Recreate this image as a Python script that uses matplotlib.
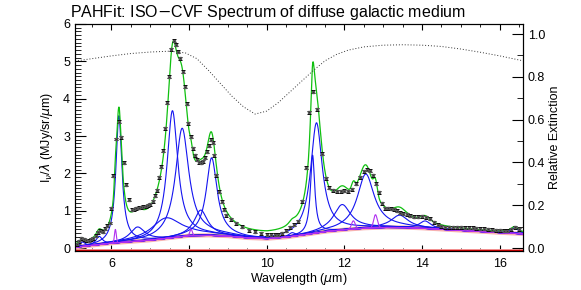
import numpy as np
import matplotlib
matplotlib.use('Agg')
import matplotlib.pyplot as plt
from matplotlib.ticker import MultipleLocator

plt.rcParams['font.family'] = ['Liberation Sans', 'DejaVu Sans']

wave = [5.10, 5.16, 5.22, 5.28, 5.35, 5.41, 5.47, 5.53, 5.59, 5.65,
        5.71, 5.77, 5.83, 5.88, 5.95, 6.00, 6.05, 6.12, 6.19, 6.25,
        6.31, 6.38, 6.45, 6.52, 6.58, 6.64, 6.70, 6.76, 6.82, 6.88,
        6.94, 7.00, 7.06, 7.12, 7.17, 7.22, 7.27, 7.33, 7.38, 7.43,
        7.49, 7.54, 7.60, 7.66, 7.72, 7.77, 7.83, 7.89, 7.94, 7.98,
        8.04, 8.09, 8.15, 8.20, 8.25, 8.30, 8.35, 8.40, 8.45, 8.50,
        8.56, 8.61, 8.65, 8.69, 8.77, 8.84, 8.90, 8.96, 9.07, 9.20,
        9.37, 9.54, 9.70, 9.85, 10.0, 10.1, 10.2, 10.3, 10.4, 10.5,
        10.6, 10.7, 10.8, 10.9, 11.0, 11.1, 11.2, 11.3, 11.42, 11.52,
        11.6, 11.7, 11.8, 11.9, 12.0, 12.1, 12.2, 12.3, 12.4, 12.5,
        12.58, 12.66, 12.74, 12.82, 12.88, 12.96, 13.04, 13.12, 13.2, 13.28,
        13.36, 13.44, 13.52, 13.6, 13.7, 13.8, 13.9, 14.0, 14.1, 14.2,
        14.3, 14.4, 14.5, 14.6, 14.7, 14.8, 14.9, 15.0, 15.1, 15.2,
        15.3, 15.4, 15.5, 15.6, 15.7, 15.8, 15.9, 16.0, 16.1, 16.2,
        16.3, 16.4, 16.5]
flux = [0.10, 0.18, 0.26, 0.24, 0.21, 0.20, 0.23, 0.26, 0.33, 0.42,
        0.46, 0.44, 0.52, 0.60, 0.67, 1.07, 1.93, 2.92, 3.38, 2.97,
        2.28, 1.69, 1.29, 1.03, 1.04, 1.06, 1.08, 1.09, 1.10, 1.12,
        1.14, 1.17, 1.25, 1.40, 1.55, 1.90, 2.18, 2.61, 3.21, 3.89,
        4.59, 5.33, 5.55, 5.44, 5.26, 5.08, 4.72, 4.32, 3.86, 3.34,
        2.98, 2.67, 2.48, 2.36, 2.30, 2.29, 2.33, 2.42, 2.58, 2.74,
        2.90, 2.82, 2.49, 1.95, 1.51, 1.24, 1.02, 0.88, 0.77, 0.66,
        0.57, 0.48, 0.43, 0.40, 0.36, 0.35, 0.35, 0.36, 0.40, 0.46,
        0.55, 0.62, 0.72, 1.25, 2.15, 3.63, 4.19, 3.71, 2.52, 1.87,
        1.62, 1.55, 1.52, 1.52, 1.53, 1.52, 1.58, 1.72, 1.90, 2.05,
        2.10, 2.07, 1.95, 1.72, 1.50, 1.20, 1.07, 1.06, 1.05, 1.04,
        1.00, 0.95, 0.92, 0.90, 0.86, 0.84, 0.84, 0.85, 0.83, 0.78,
        0.69, 0.62, 0.58, 0.56, 0.55, 0.55, 0.55, 0.55, 0.54, 0.54,
        0.54, 0.53, 0.52, 0.51, 0.50, 0.49, 0.48, 0.47, 0.46, 0.46,
        0.50, 0.56, 0.50]
flux_err = [0.04] * len(wave)

# dust continuum (left axis units)
cont_wave = [5.06, 5.5, 6.0, 6.5, 7.0, 7.5, 8.0, 8.5, 9.0, 9.5, 10.0,
             10.5, 11.0, 11.5, 12.0, 12.5, 13.0, 13.5, 14.0, 14.5, 15.0,
             15.5, 16.0, 16.6]
cont_flux = [0.02, 0.07, 0.13, 0.17, 0.21, 0.27, 0.33, 0.34, 0.32, 0.27, 0.25,
             0.29, 0.36, 0.44, 0.49, 0.53, 0.55, 0.55, 0.53, 0.50, 0.47,
             0.44, 0.41, 0.38]

# PAH features: centre, peak above continuum, fractional FWHM
pah_wave = [5.25, 5.68, 6.19, 6.67, 7.41, 7.57, 7.82, 8.30, 8.58, 10.65,
            11.18, 11.28, 11.94, 12.55, 13.42, 14.08, 16.38]
pah_peak = [0.12, 0.22, 3.40, 0.38, 0.55, 3.40, 2.90, 0.68, 2.08, 0.10,
            2.10, 2.95, 0.68, 1.45, 0.33, 0.20, 0.15]
pah_frac = [0.034, 0.035, 0.030, 0.070, 0.126, 0.044, 0.053, 0.050, 0.039, 0.020,
            0.012, 0.032, 0.045, 0.042, 0.040, 0.025, 0.014]

# atomic / H2 lines: centre, peak, FWHM
line_wave = [6.10, 8.05, 12.23, 12.80]
line_peak = [0.36, 0.17, 0.22, 0.35]
line_fwhm = [0.055, 0.075, 0.11, 0.11]

# relative extinction (right axis)
ext_wave = [5.06, 5.5, 6.0, 6.5, 7.0, 7.5, 7.9, 8.2, 8.5, 8.8, 9.1, 9.4,
            9.7, 10.0, 10.3, 10.6, 10.9, 11.2, 11.5, 11.8, 12.1, 12.5,
            13.0, 13.5, 14.0, 14.5, 15.0, 15.5, 16.0, 16.6]
ext_val = [0.874, 0.885, 0.898, 0.909, 0.916, 0.920, 0.912, 0.885, 0.830, 0.770,
           0.710, 0.660, 0.626, 0.640, 0.680, 0.730, 0.780, 0.830, 0.875, 0.905,
           0.925, 0.940, 0.948, 0.950, 0.948, 0.942, 0.930, 0.915, 0.898, 0.875]

x = np.linspace(5.06, 16.6, 1500)
cont = np.interp(x, cont_wave, cont_flux)


def drude(x, x0, peak, frac):
    return peak * frac**2 / ((x / x0 - x0 / x)**2 + frac**2)


def gauss(x, x0, peak, fwhm):
    return peak * np.exp(-0.5 * ((x - x0) / (fwhm / 2.3548))**2)


fig = plt.figure(figsize=(5.81, 2.90), dpi=100)
ax = fig.add_axes([75 / 581, 39 / 290, 448 / 581, 227 / 290])

total = cont.copy()
for w0, p, f in zip(pah_wave, pah_peak, pah_frac):
    comp = drude(x, w0, p, f)
    total += comp
    ax.plot(x, cont + comp, color='#1414f0', lw=0.8, zorder=3)
for w0, p, f in zip(line_wave, line_peak, line_fwhm):
    comp = gauss(x, w0, p, f)
    total += comp
    ax.plot(x, cont + comp, color='#b030f0', lw=0.8, zorder=3)

# continuum
ax.plot(cont_wave, cont_flux, color='#f7b0b0', lw=3, zorder=2)
ax.plot(cont_wave, cont_flux, color='#e04040', lw=0.6, zorder=2)
ax.plot(cont_wave, [c + 0.02 for c in cont_flux], color='#707070', lw=0.7, zorder=2)
ax.axhline(-0.07, color='#f49090', lw=3.5, zorder=2)
ax.axhline(-0.07, color='#d00000', lw=1.5, zorder=2)

ax.plot(x, total, color='#10c010', lw=0.9, zorder=4)
ax.errorbar(wave, flux, yerr=flux_err, fmt='s', ms=1.8, color='black',
            ecolor='black', elinewidth=0.7, capsize=1.3, capthick=0.7,
            mec='#555555', zorder=5)

ax.set_xlim(5.06, 16.6)
ax.set_ylim(-0.08, 6.0)
ax.xaxis.set_major_locator(MultipleLocator(2))
ax.xaxis.set_minor_locator(MultipleLocator(0.5))
ax.yaxis.set_major_locator(MultipleLocator(1))
ax.yaxis.set_minor_locator(MultipleLocator(0.1))
ax.tick_params(which='both', direction='in', top=True, right=False, labelsize=9)
ax.tick_params(axis='y', which='major', length=8)
ax.tick_params(axis='y', which='minor', length=4)
ax.tick_params(axis='x', which='major', length=4, pad=5)
ax.tick_params(axis='x', which='minor', length=2)
ax.set_xlabel('Wavelength ($\\mu$m)', fontsize=9, labelpad=1)
ax.set_ylabel('I$_\\nu$/$\\lambda$ (MJy/sr/$\\mu$m)', fontsize=9, labelpad=6)
fig.text(268 / 581, 1 - 12 / 290, 'PAHFit: ISO$-$CVF Spectrum of diffuse galactic medium',
         fontsize=11.5, ha='center', va='center')

ax2 = ax.twinx()
ax2.plot(ext_wave, ext_val, color='#333333', lw=0.7, ls=(0, (1, 2)))
ax2.set_ylim(-0.014, 1.047)
ax2.yaxis.set_major_locator(MultipleLocator(0.2))
ax2.yaxis.set_minor_locator(MultipleLocator(0.1))
ax2.yaxis.set_major_formatter(plt.FormatStrFormatter('%.1f'))
ax2.tick_params(which='both', direction='in', labelsize=9)
ax2.tick_params(which='major', length=8)
ax2.tick_params(which='minor', length=4)
ax2.set_ylabel('Relative Extinction', fontsize=9, labelpad=3)

fig.savefig('out.png', dpi=100)
